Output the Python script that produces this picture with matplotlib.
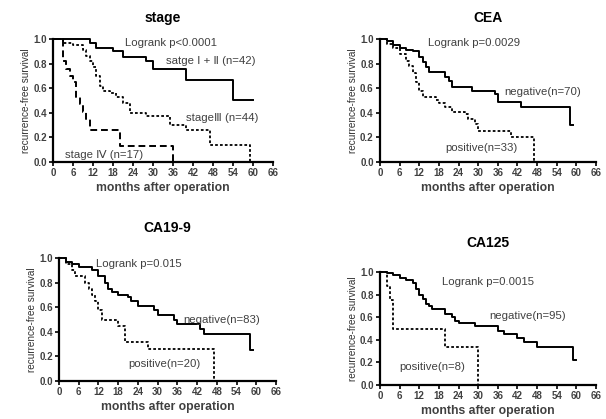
import matplotlib.pyplot as plt

plt.rcParams['font.family'] = ['Liberation Sans', 'DejaVu Sans']

## Survival step data (time in months, survival fraction)
# stage panel
st12_t = [0, 11, 13, 18, 21, 28, 30, 40, 54, 60]
st12_s = [1.0, 0.97, 0.93, 0.90, 0.85, 0.82, 0.76, 0.67, 0.50, 0.50]
st3_t = [0, 3, 6, 9, 10, 11, 12, 13, 14, 15, 17, 19, 21, 23, 28, 35, 40, 47, 59, 59]
st3_s = [1.0, 0.97, 0.95, 0.91, 0.86, 0.82, 0.77, 0.70, 0.62, 0.58, 0.56, 0.53, 0.48, 0.40, 0.37, 0.30, 0.26, 0.14, 0.14, 0.0]
st4_t = [0, 3, 4, 5, 6, 7, 8, 9, 10, 11, 20, 36, 36]
st4_s = [1.0, 0.82, 0.76, 0.70, 0.65, 0.53, 0.47, 0.41, 0.35, 0.26, 0.13, 0.13, 0.0]

# CEA panel
cea_neg_t = [0, 2, 4, 6, 8, 10, 12, 13, 14, 15, 20, 21, 22, 28, 35, 36, 37, 43, 58, 59]
cea_neg_s = [1.0, 0.98, 0.95, 0.93, 0.91, 0.90, 0.85, 0.81, 0.77, 0.73, 0.69, 0.66, 0.61, 0.58, 0.55, 0.49, 0.49, 0.45, 0.30, 0.30]
cea_pos_t = [0, 2, 4, 6, 8, 9, 10, 11, 12, 13, 17, 18, 20, 22, 26, 27, 29, 30, 40, 47, 47]
cea_pos_s = [1.0, 0.96, 0.93, 0.88, 0.82, 0.78, 0.72, 0.65, 0.58, 0.53, 0.50, 0.48, 0.45, 0.41, 0.39, 0.35, 0.31, 0.25, 0.20, 0.20, 0.0]

# CA19-9 panel
ca19_neg_t = [0, 2, 4, 6, 10, 12, 14, 15, 16, 18, 21, 22, 24, 29, 30, 35, 36, 43, 44, 58, 59]
ca19_neg_s = [1.0, 0.97, 0.95, 0.93, 0.90, 0.85, 0.80, 0.75, 0.72, 0.70, 0.68, 0.65, 0.61, 0.58, 0.54, 0.50, 0.46, 0.42, 0.38, 0.25, 0.25]
ca19_pos_t = [0, 2, 4, 5, 8, 9, 10, 11, 12, 13, 18, 20, 27, 47, 47]
ca19_pos_s = [1.0, 0.95, 0.90, 0.85, 0.80, 0.75, 0.70, 0.65, 0.58, 0.50, 0.45, 0.32, 0.26, 0.26, 0.0]

# CA125 panel
ca125_neg_t = [0, 2, 4, 6, 8, 10, 11, 12, 13, 14, 15, 16, 20, 22, 23, 24, 29, 36, 38, 42, 44, 48, 59, 60]
ca125_neg_s = [1.0, 0.99, 0.97, 0.95, 0.93, 0.90, 0.85, 0.80, 0.76, 0.72, 0.70, 0.67, 0.63, 0.60, 0.57, 0.55, 0.52, 0.48, 0.45, 0.42, 0.38, 0.34, 0.22, 0.22]
ca125_pos_t = [0, 2, 3, 4, 20, 30, 30]
ca125_pos_s = [1.0, 0.875, 0.75, 0.5, 0.333, 0.333, 0.0]

x_ticks = [0, 6, 12, 18, 24, 30, 36, 42, 48, 54, 60, 66]
y_ticks = [0.0, 0.2, 0.4, 0.6, 0.8, 1.0]

fig = plt.figure(figsize=(6.06, 4.19), dpi=100)
W, H = 606., 419.
TXT = dict(fontsize=8.2, color='0.25', va='center')

def make_ax(x0, x1, ytop, ybot, title, ttl_y):
    ax = fig.add_axes([x0/W, 1-ybot/H, (x1-x0)/W, (ybot-ytop)/H])
    ax.set_xlim(0, 66)
    ax.set_ylim(0, 1.0)
    ax.set_xticks(x_ticks)
    ax.set_yticks(y_ticks)
    ax.set_yticklabels(['%.1f' % v for v in y_ticks])
    for s in ['top', 'right']:
        ax.spines[s].set_visible(False)
    for s in ['left', 'bottom']:
        ax.spines[s].set_linewidth(1.6)
    ax.tick_params(axis='both', which='major', labelsize=7, width=1.2, length=3, pad=1.5)
    for lab in ax.get_xticklabels() + ax.get_yticklabels():
        lab.set_fontweight('bold')
        lab.set_color('0.25')
    ax.set_xlabel('months after operation', fontsize=8.8, fontweight='bold', color='0.25', labelpad=3)
    ax.set_ylabel('recurrence-free survival', fontsize=7.2, color='0.2', labelpad=1.5)
    fig.text((x0+x1)/2/W, 1-ttl_y/H, title, fontsize=10, fontweight='bold', ha='center', va='center')
    return ax

def curve(ax, t, s, **kw):
    ax.step(t, s, where='post', color='black', clip_on=False, **kw)

dots = (0, (1.5, 1.2))
dashes = (0, (3.5, 2))

# stage
ax1 = make_ax(53, 273, 39, 162, 'stage', 18)
curve(ax1, st12_t, st12_s, lw=1.4)
curve(ax1, st3_t, st3_s, lw=1.3, linestyle=dots)
curve(ax1, st4_t, st4_s, lw=1.4, linestyle=dashes)
ax1.text(21.5, 0.965, 'Logrank p<0.0001', **TXT)
ax1.text(34, 0.82, 'satge Ⅰ + Ⅱ (n=42)', **TXT)
ax1.text(40, 0.36, 'stageⅢ (n=44)', **TXT)
ax1.text(3.5, 0.06, 'stage Ⅳ (n=17)', **TXT)

# CEA
ax2 = make_ax(380, 596, 39, 162, 'CEA', 18)
curve(ax2, cea_neg_t, cea_neg_s, lw=1.4)
curve(ax2, cea_pos_t, cea_pos_s, lw=1.3, linestyle=dots)
ax2.text(14.7, 0.965, 'Logrank p=0.0029', **TXT)
ax2.text(38, 0.57, 'negative(n=70)', **TXT)
ax2.text(20, 0.11, 'positive(n=33)', **TXT)

# CA19-9
ax3 = make_ax(59, 276, 258, 381, 'CA19-9', 228)
curve(ax3, ca19_neg_t, ca19_neg_s, lw=1.4)
curve(ax3, ca19_pos_t, ca19_pos_s, lw=1.3, linestyle=dots)
ax3.text(11.4, 0.95, 'Logrank p=0.015', **TXT)
ax3.text(37.8, 0.5, 'negative(n=83)', **TXT)
ax3.text(21, 0.14, 'positive(n=20)', **TXT)

# CA125
ax4 = make_ax(380, 596, 272, 385, 'CA125', 243)
curve(ax4, ca125_neg_t, ca125_neg_s, lw=1.4)
curve(ax4, ca125_pos_t, ca125_pos_s, lw=1.3, linestyle=dots)
ax4.text(18.8, 0.91, 'Logrank p=0.0015', **TXT)
ax4.text(33.3, 0.61, 'negative(n=95)', **TXT)
ax4.text(6, 0.16, 'positive(n=8)', **TXT)

fig.savefig('out.png', dpi=100)
